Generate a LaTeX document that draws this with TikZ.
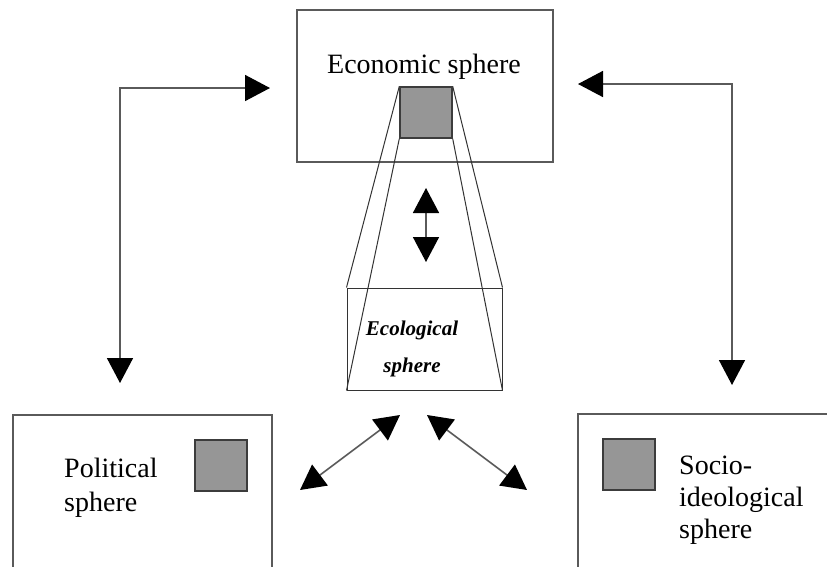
\documentclass[tikz,border=0pt]{standalone}
\usepackage{fontspec}
\setmainfont{Liberation Serif}
\usepackage{tikz}
\usepackage{xcolor}
\usetikzlibrary{arrows.meta, positioning, calc}
\definecolor{cLine}{RGB}{90,90,90}
\definecolor{cSquare}{RGB}{150,150,150}
\definecolor{cEdge}{RGB}{60,60,60}
\tikzset{
	spherebox/.style={rectangle, draw=cLine, line width=1.4pt, inner sep=0pt, fill=white},
	marker/.style   ={rectangle, draw=cEdge, line width=1.4pt, fill=cSquare, minimum width=52pt, minimum height=51pt, inner sep=0pt},
	linkarrow/.style={{Triangle[length=25pt, width=26pt, color=black]}-{Triangle[length=25pt, width=26pt, color=black]}, draw=cLine, line width=1.6pt},
	% text helper
	tag/.style={font=\fontsize{28}{34}\selectfont, align=left, inner sep=0pt},
}
\begin{document}
\begin{tikzpicture}[x=1pt, y=-1pt,
			wedge/.style={draw=black!80, line width=1pt}]
			\clip (0,0) rectangle (827,566);
			\fill[white] (0,0) rectangle (827,566);
			% the three outer spheres
			\node[spherebox, minimum width=256pt, minimum height=152pt] (econ) at (425,86) {};
			\node[spherebox, minimum width=259pt, minimum height=185pt] (poli) at (142.5,507.5) {};
			\node[spherebox, minimum width=272pt, minimum height=186pt] (soci) at (714,507) {};
			\node[tag, font=\fontsize{28}{34}\selectfont] (econtxt) at (424,67) {Economic sphere};
			\node[tag, anchor=west] (politxt) at (64,488) {Political\\sphere};
			\node[tag, anchor=west, font=\fontsize{28}{32}\selectfont] (socitxt) at (679,500) {Socio-\\ideological\\sphere};
			% grey squares
			\node[marker] (econsq) at (426,112.5) {};
			\node[marker] (polisq) at (221,465.5) {};
			\node[marker] (socisq) at (629,464.5) {};
			% ecological sphere and its wedge
			\node[spherebox, draw=black!80, line width=1pt, fill=none, minimum width=155pt, minimum height=102pt] (ecol) at (424.5,339) {};
			\draw[wedge] (econsq.north west) -- (ecol.north west);
			\draw[wedge] (econsq.north east) -- (ecol.north east);
			\draw[wedge] (econsq.south west) -- (ecol.south west);
			\draw[wedge] (econsq.south east) -- (ecol.south east);
			\node[marker] at (econsq) {};
			\node[font=\fontsize{21}{37}\selectfont\bfseries\itshape, align=center, inner sep=0pt] (ecoltxt) at (412,349) {Ecological\\sphere};
			% arrow end points
			\coordinate (vtop) at (426,188);
			\coordinate (vbot) at (426,262);
			\coordinate (lefta) at (270,88);
			\coordinate (leftb) at (120,383);
			\coordinate (righta) at (578,84);
			\coordinate (rightb) at (732,385);
			\coordinate (dlfar) at (300,490);
			\coordinate (dlnear) at (400,415);
			\coordinate (drnear) at (427,415);
			\coordinate (drfar) at (527,490);
			\draw[linkarrow] (vtop) -- (vbot);
			\draw[linkarrow] (lefta) -| (leftb);
			\draw[linkarrow] (righta) -| (rightb);
			\draw[linkarrow] (dlfar) -- (dlnear);
			\draw[linkarrow] (drnear) -- (drfar);
		\end{tikzpicture}
\end{document}
